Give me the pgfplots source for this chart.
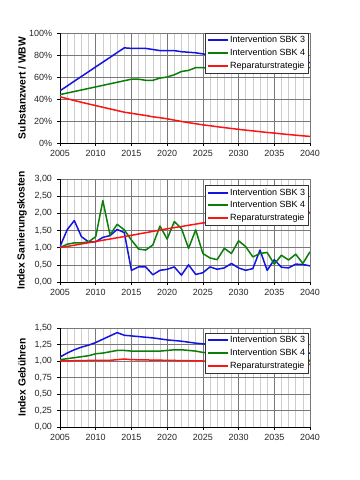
\documentclass[border=0pt]{standalone}
\usepackage{fontspec}
\setmainfont{Liberation Sans}
\usepackage{pgfplots}
\pgfplotsset{compat=1.18}
\definecolor{cblue}{RGB}{20,20,225}
\definecolor{cgreen}{RGB}{10,125,10}
\definecolor{cred}{RGB}{250,20,20}
\definecolor{gmajor}{RGB}{120,120,120}
\definecolor{gminor}{RGB}{205,205,205}
\pgfplotsset{
  myax/.style={
    scale only axis, width=250bp, anchor=south west,
    xmin=2005, xmax=2040, xtick={2005,2010,...,2040}, minor x tick num=4,
    /pgf/number format/1000 sep={},
    /pgf/number format/assume math mode=true,
    axis x line*=bottom, axis y line*=left,
    axis line style={black, line width=0.6bp},
    tick align=outside, major tick length=3bp, minor tick length=0bp,
    tick style={black, line width=0.5bp},
    xmajorgrids=true, xminorgrids=true, ymajorgrids=true,
    major grid style={gmajor, line width=0.6bp},
    minor grid style={gminor, line width=0.5bp},
    tick label style={font=\fontsize{9}{10}\selectfont, text=black!85},
    xticklabel style={yshift=-1bp},
    yticklabel style={xshift=-1.5bp},
    ylabel style={at={(axis description cs:-0.152,0.5)}, anchor=center, font=\bfseries\fontsize{10.3}{12}\selectfont},
    legend cell align=left,
    legend image code/.code={\draw[##1, line width=2bp] (0bp,0bp) -- (20bp,0bp);},
    legend style={draw=black!80, fill=white,
      font=\fontsize{9}{10}\selectfont, inner xsep=1.5bp, inner ysep=2bp,
      nodes={inner sep=1.3bp}, row sep=2.2bp},
    every axis plot/.append style={line width=1.5bp, line join=round},
  }
}
\begin{document}
\begin{tikzpicture}
\useasboundingbox (0bp,0bp) rectangle (360bp,480bp);
% Panel 1
\begin{axis}[myax, at={(60bp,337bp)}, height=110bp,
  ymin=0, ymax=100, ytick={0,20,...,100},
  yticklabels={0\%,20\%,40\%,60\%,80\%,100\%},
  ylabel={Substanzwert / WBW},
  legend style={at={(rel axis cs:0.992,1.0)}, anchor=north east}]
\addplot[cblue] coordinates {(2005,47.5)(2006,51.8)(2007,56.2)(2008,60.5)(2009,64.8)(2010,69.2)(2011,73.5)(2012,77.8)(2013,82.2)(2014,86.5)(2015,86)(2016,86)(2017,86)(2018,85)(2019,84)(2020,84)(2021,84)(2022,83)(2023,82.5)(2024,82)(2025,81)(2026,80)(2028,79)(2030,77.5)(2032,76.5)(2034,75.5)(2036,74.5)(2038,73.5)(2040,73)};
\addplot[cgreen] coordinates {(2005,44)(2006,45.4)(2007,46.8)(2008,48.2)(2009,49.6)(2010,51)(2011,52.4)(2012,53.8)(2013,55.2)(2014,56.6)(2015,58)(2016,58)(2017,57)(2018,57)(2019,59)(2020,60)(2021,62)(2022,65)(2023,66)(2024,68.5)(2025,68.5)(2026,68)(2030,68)(2035,68.5)(2040,68.5)};
\addplot[cred] coordinates {(2005,42)(2006,40.3)(2007,38.6)(2008,37)(2009,35.5)(2010,34)(2011,32.5)(2012,31)(2013,29.5)(2014,28)(2015,27)(2016,26)(2017,25)(2018,23.8)(2019,23)(2020,22)(2021,20.8)(2022,19.6)(2023,18.5)(2024,17.5)(2025,16.5)(2026,15.7)(2027,14.8)(2028,14)(2029,13.2)(2030,12.4)(2031,11.7)(2032,11)(2033,10.3)(2034,9.6)(2035,9)(2036,8.3)(2037,7.7)(2038,7.1)(2039,6.5)(2040,6)};
\legend{Intervention SBK 3,Intervention SBK 4,Reparaturstrategie}
\end{axis}
% Panel 2
\begin{axis}[myax, at={(60bp,198bp)}, height=103bp,
  ymin=0, ymax=3, ytick={0,0.5,...,3},
  yticklabels={{0,00},{0,50},{1,00},{1,50},{2,00},{2,50},{3,00}},
  ylabel={Index Sanierungskosten},
  legend style={at={(rel axis cs:0.992,0.94)}, anchor=north east}]
\addplot[cblue] coordinates {(2005,1.03)(2006,1.52)(2007,1.79)(2008,1.32)(2009,1.17)(2010,1.17)(2011,1.30)(2012,1.35)(2013,1.53)(2014,1.44)(2015,0.34)(2016,0.44)(2017,0.44)(2018,0.21)(2019,0.34)(2020,0.37)(2021,0.44)(2022,0.20)(2023,0.50)(2024,0.22)(2025,0.27)(2026,0.44)(2027,0.37)(2028,0.41)(2029,0.54)(2030,0.41)(2031,0.34)(2032,0.39)(2033,0.93)(2034,0.34)(2035,0.65)(2036,0.43)(2037,0.41)(2038,0.52)(2039,0.51)(2040,0.47)};
\addplot[cgreen] coordinates {(2005,1.00)(2006,1.10)(2007,1.14)(2008,1.14)(2009,1.17)(2010,1.32)(2011,2.37)(2012,1.37)(2013,1.68)(2014,1.52)(2015,1.22)(2016,0.96)(2017,0.93)(2018,1.08)(2019,1.63)(2020,1.25)(2021,1.76)(2022,1.56)(2023,0.98)(2024,1.52)(2025,0.83)(2026,0.70)(2027,0.65)(2028,0.98)(2029,0.83)(2030,1.20)(2031,1.03)(2032,0.73)(2033,0.83)(2034,0.86)(2035,0.52)(2036,0.78)(2037,0.64)(2038,0.81)(2039,0.54)(2040,0.88)};
\addplot[cred] coordinates {(2005,1.00)(2010,1.18)(2015,1.36)(2020,1.55)(2025,1.72)(2030,1.84)(2035,1.94)(2040,2.03)};
\legend{Intervention SBK 3,Intervention SBK 4,Reparaturstrategie}
\end{axis}
% Panel 3
\begin{axis}[myax, at={(60bp,53bp)}, height=99bp,
  ymin=0, ymax=1.5, ytick={0,0.25,...,1.5},
  yticklabels={{0,00},{0,25},{0,50},{0,75},{1,00},{1,25},{1,50}},
  ylabel={Index Gebühren},
  legend style={at={(rel axis cs:0.992,0.95)}, anchor=north east}]
\addplot[cblue] coordinates {(2005,1.06)(2006,1.12)(2007,1.17)(2008,1.21)(2009,1.24)(2010,1.28)(2011,1.33)(2012,1.38)(2013,1.43)(2014,1.39)(2015,1.38)(2016,1.37)(2018,1.35)(2020,1.32)(2022,1.30)(2024,1.27)(2026,1.25)(2030,1.21)(2035,1.16)(2040,1.12)};
\addplot[cgreen] coordinates {(2005,1.02)(2007,1.05)(2009,1.08)(2010,1.11)(2011,1.12)(2012,1.14)(2013,1.16)(2014,1.16)(2015,1.15)(2017,1.15)(2019,1.15)(2020,1.16)(2021,1.17)(2022,1.17)(2024,1.15)(2025,1.13)(2026,1.12)(2030,1.09)(2035,1.05)(2040,1.01)};
\addplot[cred] coordinates {(2005,1.00)(2010,1.01)(2012,1.01)(2014,1.03)(2015,1.02)(2020,1.01)(2025,1.00)(2030,0.99)(2035,0.97)(2040,0.95)};
\legend{Intervention SBK 3,Intervention SBK 4,Reparaturstrategie}
\end{axis}
\end{tikzpicture}
\end{document}
